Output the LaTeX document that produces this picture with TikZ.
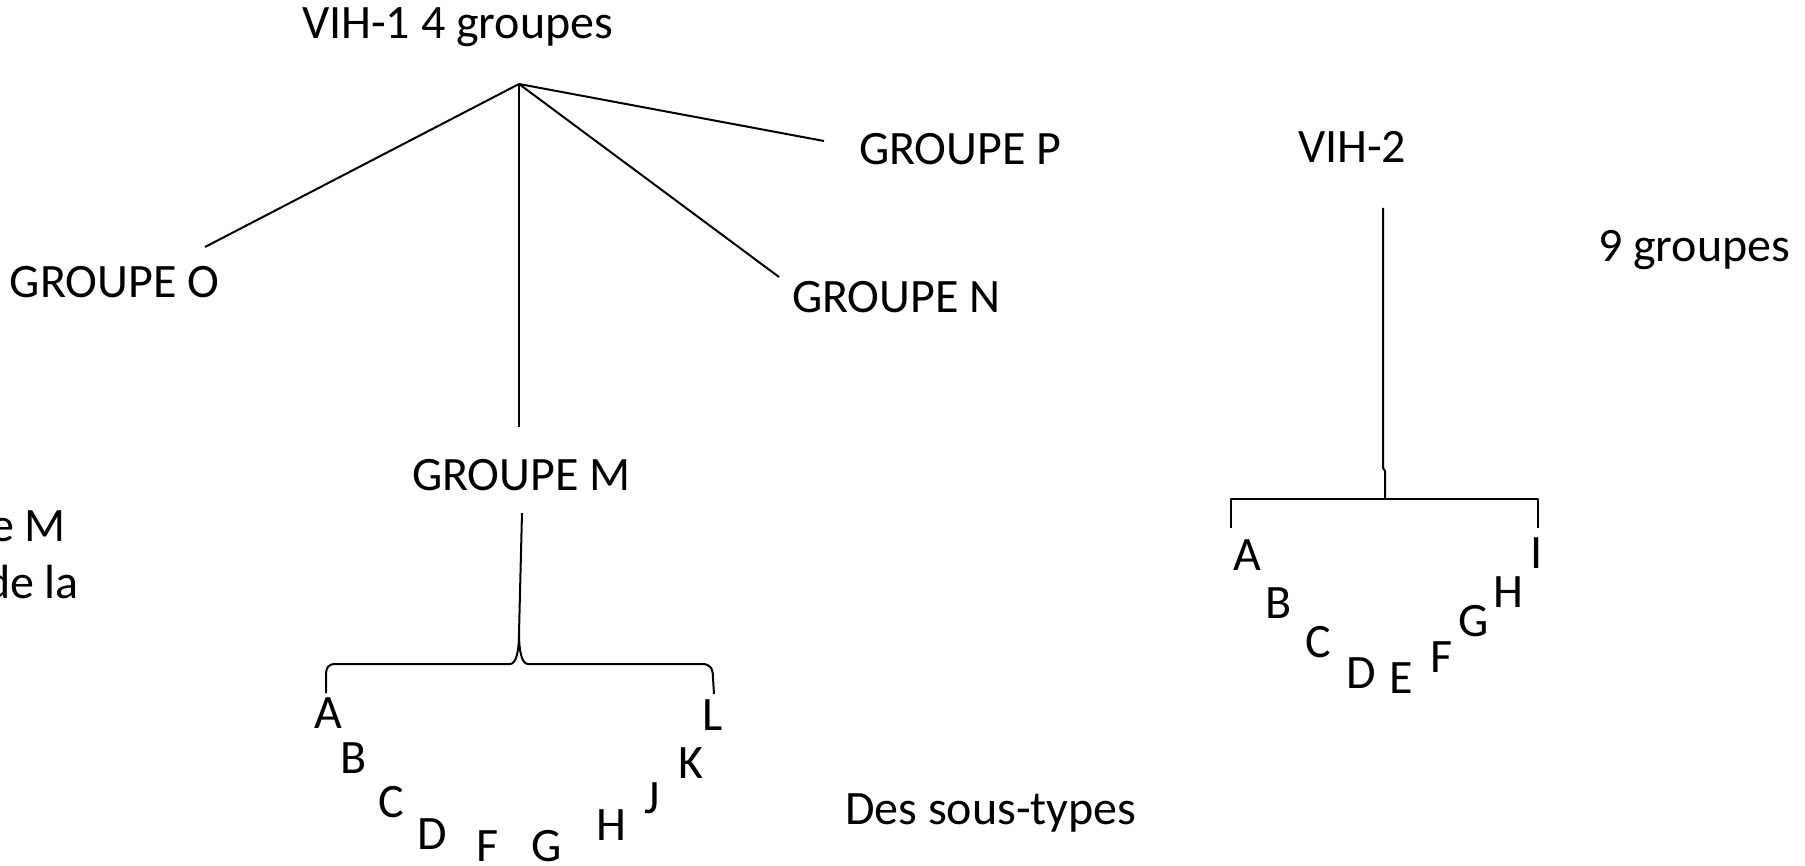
\documentclass[tikz,border=0pt]{standalone}
\usepackage{fontspec}
\setmainfont{Carlito}
\newcommand\lblfont{\fontsize{24pt}{29pt}\selectfont}
\begin{document}
\begin{tikzpicture}[x=0.5pt,y=-0.5pt,
  lbl/.style={inner sep=0pt,outer sep=0pt,font=\lblfont,anchor=base west},
  sub/.style={inner sep=0pt,outer sep=0pt,font=\lblfont,anchor=base},
  link/.style={line width=1pt,line cap=butt,line join=round}]
\useasboundingbox (0,0) rectangle (1805,866);
\clip (0,0) rectangle (1805,866);

% labels
\node[lbl] (vih1) at (302,39) {VIH-1 4 groupes};
\node[lbl] (gp) at (859,165) {GROUPE P};
\node[lbl] (go) at (10,298) {GROUPE O};
\node[lbl] (gn) at (792,313) {GROUPE N};
\node[lbl] (gm) at (412,490) {GROUPE M};
\node[lbl] (vih2) at (1298,163) {VIH-2};
\node[lbl] (neuf) at (1598,262) {9 groupes};
\node[lbl] (sous) at (845,824) {Des sous-types};
\node[lbl,anchor=base east] (cutA) at (66,541) {e M};
\node[lbl,anchor=base east] (cutB) at (79,598) {de la};

% VIH-1 tree
\coordinate (apex) at (519,84);
\coordinate (oEnd) at (205,247);
\coordinate (pEnd) at (824,141);
\coordinate (nEnd) at (779,277);
\coordinate (mTop) at (519,427);
\coordinate (mLow) at (522,513);
\coordinate (mTip) at (519,633);
\draw[link] (apex) -- (oEnd);
\draw[link] (apex) -- (pEnd);
\draw[link] (apex) -- (nEnd);
\draw[link] (apex) -- (mTop);
\draw[link] (mLow) -- (mTip);

% curly brace under GROUPE M
\coordinate (mbL) at (326,693);
\coordinate (mbR) at (714,694);
\draw[link] (mbL) -- (326,676) .. controls (326,667) and (328,664) .. (336,664)
  -- (510,664) .. controls (516,664) and (519,652) .. (mTip)
  .. controls (519,652) and (522,664) .. (528,664)
  -- (702,664) .. controls (710,664) and (713,668) .. (713,678) -- (mbR);

% subtypes of group M
\foreach \n/\x/\y in {A/328/728, B/354/773, C/391/817, D/432/849, F/488/861,
                      G/547/861, H/611/840, J/652/813, K/691/778, L/713/730}
  \node[sub] (m\n) at (\x,\y) {\n};

% VIH-2 tree
\coordinate (sTop) at (1383,208);
\coordinate (sJog) at (1383,468);
\coordinate (sBar) at (1385,499);
\coordinate (bL) at (1231,499);
\coordinate (bR) at (1538,499);
\draw[link] (sTop) -- (sJog) -- (1385,471) -- (sBar);
\draw[link] (1231,528) -- (bL) -- (bR) -- (1538,528);

% VIH-2 groups
\foreach \n/\x/\y in {A/1247/570, B/1279/618, C/1318/657, D/1361/688, E/1401/693,
                      F/1442/672, G/1474/636, H/1508/607, I/1537/568}
  \node[sub] (v\n) at (\x,\y) {\n};
\end{tikzpicture}
\end{document}
